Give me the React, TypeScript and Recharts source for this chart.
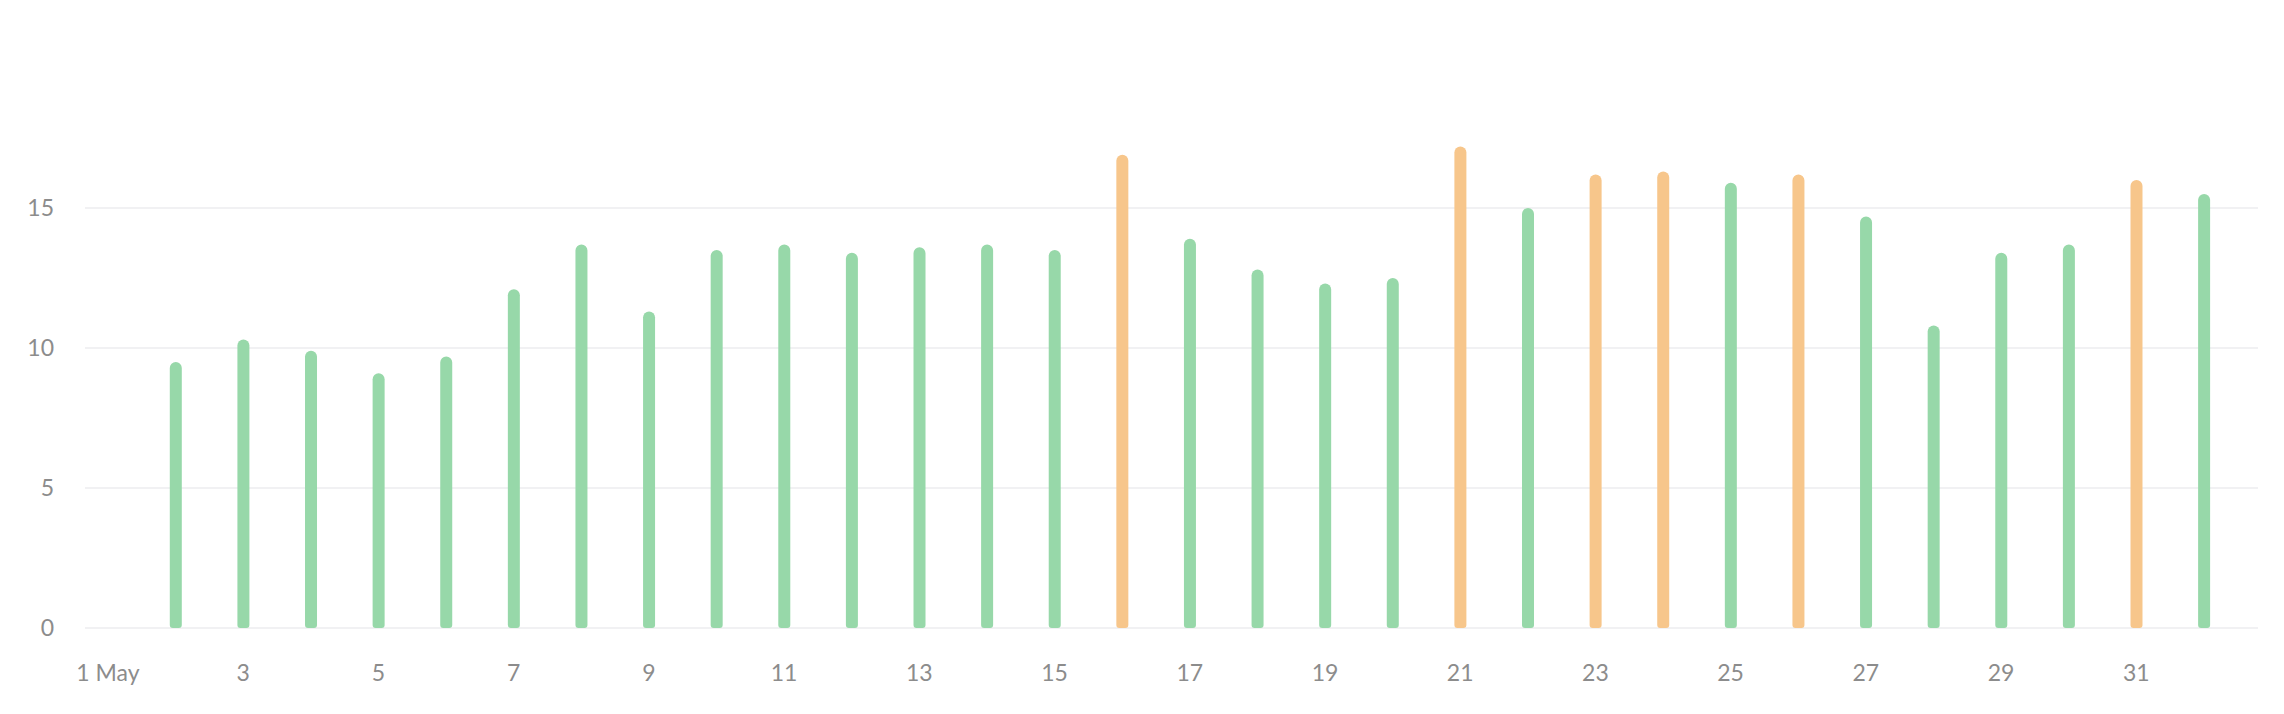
import { BarChart, Bar, XAxis, YAxis, CartesianGrid, Cell } from 'recharts';

const days = [2, 3, 4, 5, 6, 7, 8, 9, 10, 11, 12, 13, 14, 15, 16, 17, 18, 19, 20, 21, 22, 23, 24, 25, 26, 27, 28, 29, 30, 31, 32];
const values = [9.5, 10.3, 9.9, 9.1, 9.7, 12.1, 13.7, 11.3, 13.5, 13.7, 13.4, 13.6, 13.7, 13.5, 16.9, 13.9, 12.8, 12.3, 12.5, 17.2, 15.0, 16.2, 16.3, 15.9, 16.2, 14.7, 10.8, 13.4, 13.7, 16.0, 15.5];
const highlighted = [16, 21, 23, 24, 26, 31];
const xTicks = [1, 3, 5, 7, 9, 11, 13, 15, 17, 19, 21, 23, 25, 27, 29, 31];
const yTicks = [0, 5, 10, 15];

const GREEN = '#97d8a9';
const ORANGE = '#f7c68b';
const TEXT = '#8c8c8c';

const data = days.map((day, i) => ({ day, value: values[i] }));

const tickStyle = { fill: TEXT, fontSize: 23, fontFamily: 'Lato, "Noto Sans", sans-serif' };

export default function App() {
  return (
    <div style={{ width: 2284, height: 714, background: '#fff' }}>
      <style>{'body{margin:0}'}</style>
      <BarChart width={2284} height={714} data={data} margin={{ top: 68, right: 26, bottom: 0, left: 0 }}>
        <CartesianGrid vertical={false} stroke="#f1f1f3" strokeWidth={2} syncWithTicks />
        <XAxis
          dataKey="day"
          type="number"
          domain={[0.66, 32.8]}
          ticks={xTicks}
          interval={0}
          allowDataOverflow
          axisLine={false}
          tickLine={false}
          height={86}
          tickMargin={31}
          tick={tickStyle}
          tickFormatter={(d: number) => (d === 1 ? '1 May' : String(d))}
        />
        <YAxis
          domain={[0, 20]}
          ticks={yTicks}
          axisLine={false}
          tickLine={false}
          width={85}
          tickMargin={25}
          tick={tickStyle}
        />
        <Bar dataKey="value" barSize={12} radius={[6, 6, 3, 3]} isAnimationActive={false}>
          {data.map((d, i) => (
            <Cell key={`cell-${i}`} fill={highlighted.includes(d.day) ? ORANGE : GREEN} />
          ))}
        </Bar>
      </BarChart>
    </div>
  );
}
